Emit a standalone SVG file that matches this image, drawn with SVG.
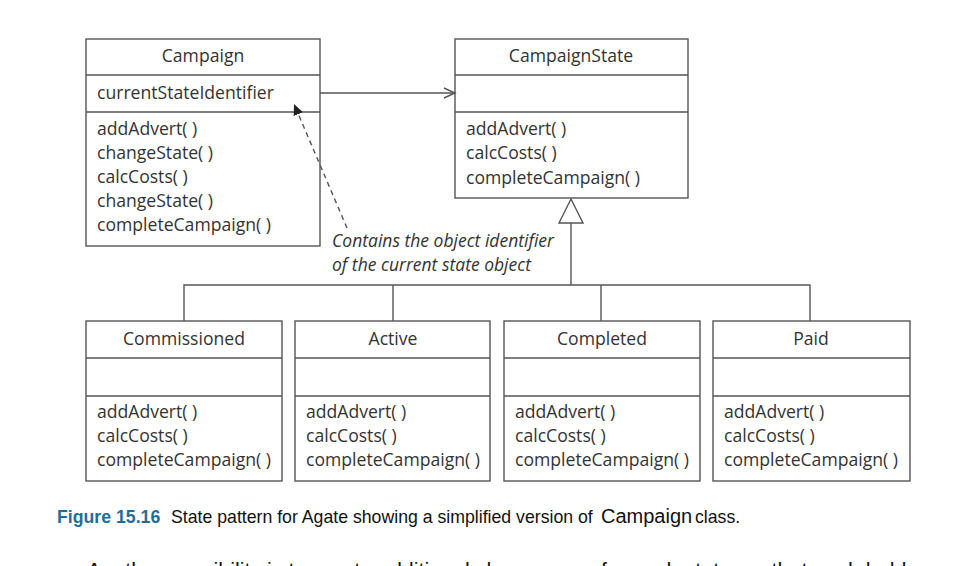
<svg xmlns="http://www.w3.org/2000/svg" width="978" height="566" viewBox="0 0 978 566">
<style>
.box{fill:#fff;stroke:#555;stroke-width:1.4}
.ln{stroke:#555;stroke-width:1.4;fill:none}
.t{font-family:"Open Sans","Noto Sans",sans-serif;font-size:17.6px;fill:#333}
.c{text-anchor:middle}
.note{font-family:"Open Sans","Noto Sans",sans-serif;font-size:17.5px;font-style:italic;fill:#333}
.cap{font-family:"Liberation Sans",Arial,sans-serif;fill:#111}
</style>
<defs>
<marker id="open" markerWidth="14" markerHeight="12" refX="12" refY="6" orient="auto" markerUnits="userSpaceOnUse">
<path d="M1,1 L12,6 L1,11" fill="none" stroke="#555" stroke-width="1.4"/>
</marker>
<marker id="filled" markerWidth="12" markerHeight="10" refX="11" refY="5" orient="auto" markerUnits="userSpaceOnUse">
<path d="M0,0 L11,5 L0,10 Z" fill="#222"/>
</marker>
</defs>

<g id="Campaign">
<rect class="box" x="86" y="39" width="234" height="207"/>
<line class="ln" x1="86" y1="75" x2="320" y2="75"/>
<line class="ln" x1="86" y1="112" x2="320" y2="112"/>
<text class="t c" x="203" y="62">Campaign</text>
<text class="t" x="97" y="99">currentStateIdentifier</text>
<text class="t" x="97" y="135">addAdvert( )</text>
<text class="t" x="97" y="159">changeState( )</text>
<text class="t" x="97" y="183">calcCosts( )</text>
<text class="t" x="97" y="207">changeState( )</text>
<text class="t" x="97" y="231">completeCampaign( )</text>
</g>

<g id="CampaignState">
<rect class="box" x="455" y="39" width="233" height="159"/>
<line class="ln" x1="455" y1="75" x2="688" y2="75"/>
<line class="ln" x1="455" y1="112" x2="688" y2="112"/>
<text class="t c" x="571" y="62">CampaignState</text>
<text class="t" x="466" y="135">addAdvert( )</text>
<text class="t" x="466" y="159">calcCosts( )</text>
<text class="t" x="466" y="184">completeCampaign( )</text>
</g>

<g id="Commissioned">
<rect class="box" x="86" y="321" width="196" height="160"/>
<line class="ln" x1="86" y1="358" x2="282" y2="358"/>
<line class="ln" x1="86" y1="396" x2="282" y2="396"/>
<text class="t c" x="184" y="345">Commissioned</text>
<text class="t" x="97" y="418">addAdvert( )</text>
<text class="t" x="97" y="442">calcCosts( )</text>
<text class="t" x="97" y="466">completeCampaign( )</text>
</g>

<g id="Active">
<rect class="box" x="295" y="321" width="195" height="160"/>
<line class="ln" x1="295" y1="358" x2="490" y2="358"/>
<line class="ln" x1="295" y1="396" x2="490" y2="396"/>
<text class="t c" x="393" y="345">Active</text>
<text class="t" x="306" y="418">addAdvert( )</text>
<text class="t" x="306" y="442">calcCosts( )</text>
<text class="t" x="306" y="466">completeCampaign( )</text>
</g>

<g id="Completed">
<rect class="box" x="504" y="321" width="196" height="160"/>
<line class="ln" x1="504" y1="358" x2="700" y2="358"/>
<line class="ln" x1="504" y1="396" x2="700" y2="396"/>
<text class="t c" x="602" y="345">Completed</text>
<text class="t" x="515" y="418">addAdvert( )</text>
<text class="t" x="515" y="442">calcCosts( )</text>
<text class="t" x="515" y="466">completeCampaign( )</text>
</g>

<g id="Paid">
<rect class="box" x="713" y="321" width="197" height="160"/>
<line class="ln" x1="713" y1="358" x2="910" y2="358"/>
<line class="ln" x1="713" y1="396" x2="910" y2="396"/>
<text class="t c" x="811" y="345">Paid</text>
<text class="t" x="724" y="418">addAdvert( )</text>
<text class="t" x="724" y="442">calcCosts( )</text>
<text class="t" x="724" y="466">completeCampaign( )</text>
</g>

<g id="connectors">
<line class="ln" x1="320" y1="93" x2="455" y2="93" marker-end="url(#open)"/>
<line class="ln" x1="347" y1="228" x2="294" y2="104" stroke-dasharray="5,4" stroke-width="1.2" marker-end="url(#filled)"/>
<polygon class="box" points="571,199 583,223 559,223"/>
<line class="ln" x1="571" y1="223" x2="571" y2="285"/>
<polyline class="ln" points="184,321 184,285 810,285 810,321"/>
<line class="ln" x1="393" y1="285" x2="393" y2="321"/>
<line class="ln" x1="601" y1="285" x2="601" y2="321"/>
</g>

<g id="note">
<text class="note" x="332" y="247">Contains the object identifier</text>
<text class="note" x="332" y="271">of the current state object</text>
</g>

<g id="caption">
<text class="cap" y="523" font-size="17.7"><tspan x="57" font-weight="bold" fill="#1f6e9a">Figure 15.16</tspan><tspan x="171">State pattern for Agate showing a simplified version of</tspan><tspan x="601" font-size="20">Campaign</tspan><tspan x="695">class.</tspan></text>
<text class="cap" x="87" y="577" font-size="21" textLength="848" lengthAdjust="spacingAndGlyphs">Another possibility is to create additional classes, one for each state, so that each holds a</text>
</g>
</svg>
